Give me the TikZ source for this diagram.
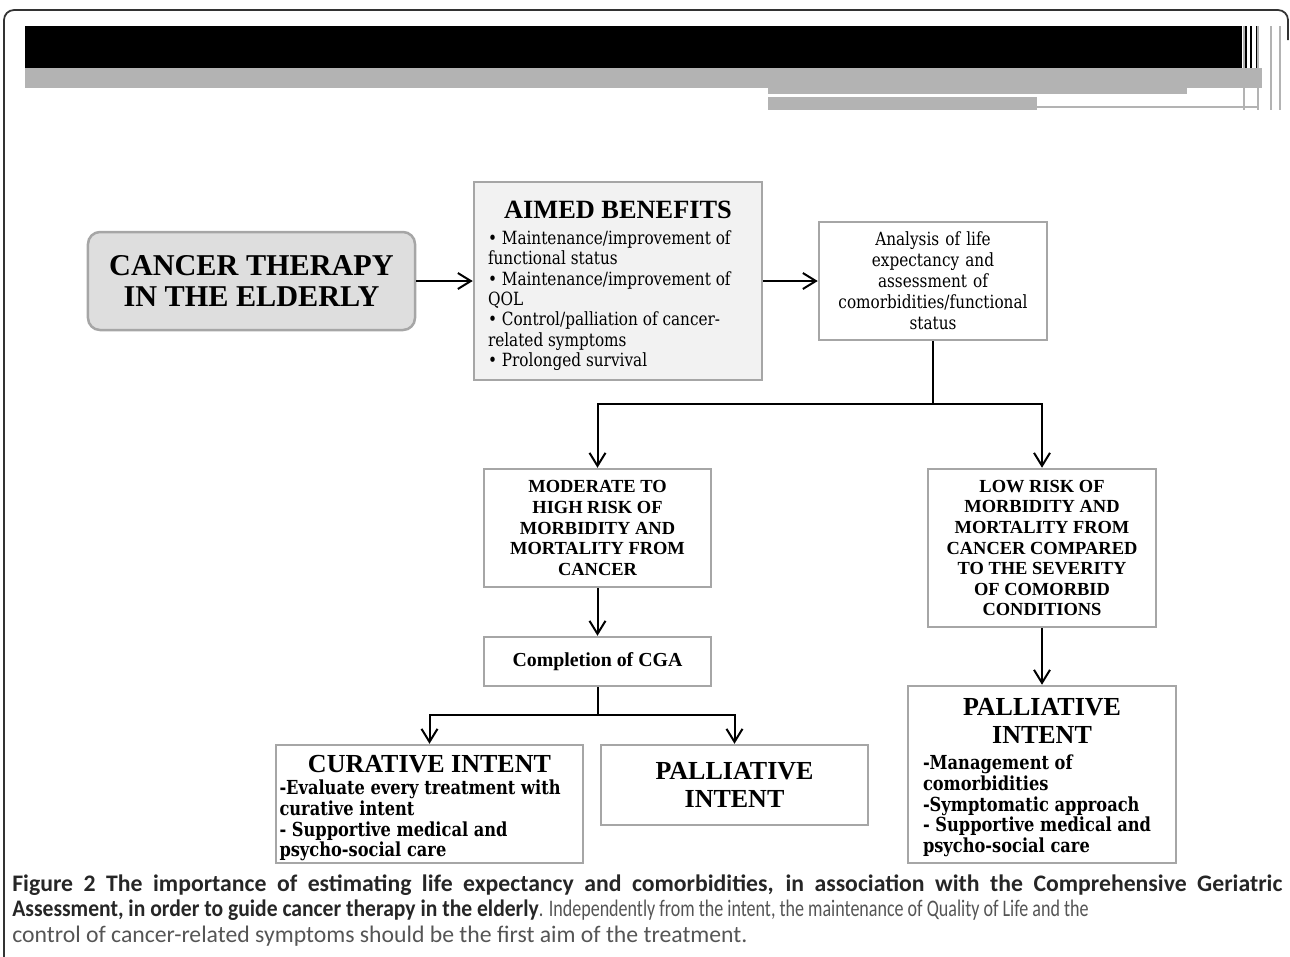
\documentclass[tikz,border=0pt]{standalone}
\usepackage{fontspec}
\usepackage{graphicx}
\usepackage{tikz}
\usetikzlibrary{arrows.meta, positioning, calc}
\newfontfamily\tnr{Liberation Serif}
\newfontfamily\georgia[FakeStretch=0.84]{DejaVu Serif}
\newfontfamily\capfont{Carlito}
\definecolor{boxline}{HTML}{A6A6A6}
\definecolor{therapyfill}{HTML}{DEDEDE}
\definecolor{aimfill}{HTML}{F2F2F2}
\definecolor{bandgray}{HTML}{B3B3B3}
\definecolor{captext}{HTML}{555555}
\definecolor{capbold}{HTML}{262626}

\begin{document}
\begin{tikzpicture}[x=0.2mm,y=-0.2mm,
  box/.style={draw=boxline, line width=0.5mm, fill=white, inner sep=0.6mm},
  link/.style={line width=0.4mm},
  arr/.style={link, -{Straight Barb[length=2.6mm,width=3.2mm]}}]
\useasboundingbox (0,0) rectangle (1290,956);

\draw[black!80, line width=0.35mm, rounded corners=2mm] (4,960) -- (4,10) -- (1288,10) -- (1288,40);
\fill (25,26) rectangle (1242,68);
\fill[bandgray] (25,68) rectangle (1262,88);
\fill[bandgray] (768,88) rectangle (1187,94);
\fill[bandgray] (768,97) rectangle (1037,110);
\draw[bandgray, line width=0.3mm] (1037,107) -- (1258,107);
\foreach \x in {1246,1251,1257} \draw[line width=0.3mm] (\x,26) -- (\x,68);
\foreach \x in {1244,1258,1271,1280} \draw[bandgray, line width=0.3mm] (\x,26) -- (\x,110);

\node[box, fill=therapyfill, rounded corners=2.4mm, minimum width=65.4mm, minimum height=19.6mm,
  align=center, font=\tnr\bfseries\fontsize{17.2}{17.6}\selectfont] (therapy) at (251.5,281)
  {CANCER THERAPY\\IN THE ELDERLY};

\node[box, fill=aimfill, minimum width=57.6mm, minimum height=39.6mm,
  font=\georgia\fontsize{10.35}{11.6}\selectfont] (aims) at (618,281)
  {\raisebox{-2.85pt}[\height][\depth]{\parbox{52mm}{\raggedright
  {\centering\tnr\bfseries\fontsize{15}{16}\selectfont AIMED BENEFITS\par}\vspace{3pt}
  • Maintenance/improvement of\\ functional status\\ • Maintenance/improvement of\\ QOL\\
  • Control/palliation of cancer-\\ related symptoms\\ • Prolonged survival}}};

\node[box, minimum width=45.6mm, minimum height=23.6mm, text width=43mm, align=center,
  font=\georgia\fontsize{10.35}{11.9}\selectfont] (analysis) at (933,281)
  {Analysis of life\\ expectancy and\\ assessment of\\ comorbidities/functional\\ status};

\node[box, minimum width=45.4mm, minimum height=23.6mm, align=center,
  font=\tnr\bfseries\fontsize{10.5}{11.7}\selectfont] (moderate) at (597.5,528)
  {MODERATE TO\\HIGH RISK OF\\MORBIDITY AND\\MORTALITY FROM\\CANCER};

\node[box, minimum width=45.6mm, minimum height=31.6mm, align=center,
  font=\tnr\bfseries\fontsize{10.5}{11.7}\selectfont] (lowrisk) at (1042,548)
  {LOW RISK OF\\MORBIDITY AND\\MORTALITY FROM\\CANCER COMPARED\\TO THE SEVERITY\\OF COMORBID\\CONDITIONS};

\node[box, minimum width=45.4mm, minimum height=9.8mm,
  font=\tnr\bfseries\fontsize{11.3}{13}\selectfont] (cga) at (597.5,661.5) {Completion of CGA};

\node[box, minimum width=61.4mm, minimum height=23.6mm,
  font=\georgia\bfseries\fontsize{11}{11.7}\selectfont] (curative) at (429.5,804)
  {\raisebox{-2.3pt}[\height][\depth]{\parbox{60mm}{\raggedright
  {\centering\tnr\bfseries\fontsize{14.8}{16}\selectfont CURATIVE INTENT\par}\vspace{1.1pt}
  -Evaluate every treatment with\\ curative intent\\ - Supportive medical and\\ psycho-social care}}};

\node[box, minimum width=53.4mm, minimum height=16mm, align=center,
  font=\tnr\bfseries\fontsize{14.8}{15.9}\selectfont] (palmid) at (734.5,785) {PALLIATIVE\\INTENT};

\node[box, minimum width=53.6mm, minimum height=35.4mm,
  font=\georgia\bfseries\fontsize{11}{11.7}\selectfont] (palright) at (1042,774.5)
  {\raisebox{-1.7pt}[\height][\depth]{\parbox{47.6mm}{\raggedright
  {\centering\tnr\bfseries\fontsize{14.8}{15.9}\selectfont PALLIATIVE\\INTENT\par}\vspace{3.2pt}
  -Management of\\ comorbidities\\ -Symptomatic approach\\ - Supportive medical and\\ psycho-social care}}};

\coordinate (fork1) at (933,404);
\coordinate (fork2) at (597.5,715);
\draw[arr] (therapy) -- (aims);
\draw[arr] (aims) -- (analysis);
\draw[link] (analysis.south) -- (fork1);
\draw[arr] (fork1) -| (moderate.north);
\draw[arr] (fork1) -| (lowrisk.north);
\draw[arr] (moderate) -- (cga);
\draw[link] (cga.south) -- (fork2);
\draw[arr] (fork2) -| (curative.north);
\draw[arr] (fork2) -| (palmid.north);
\draw[arr] (lowrisk) -- (palright);

\node[anchor=north west, inner sep=0, align=left, text=captext,
  font=\capfont\fontsize{13.5}{14.5}\selectfont] (caption) at (12,874)
  {\makebox[254mm][s]{\color{capbold}\bfseries Figure 2 The importance of estimating life expectancy and comorbidities, in association with the Comprehensive Geriatric}\\
  \scalebox{0.91}[1]{\color{capbold}\bfseries Assessment, in order to guide cancer therapy in the elderly}\scalebox{0.76}[1]{. Independently from the intent, the maintenance of Quality of Life and the}\\
  control of cancer-related symptoms should be the first aim of the treatment.};
\end{tikzpicture}
\end{document}
